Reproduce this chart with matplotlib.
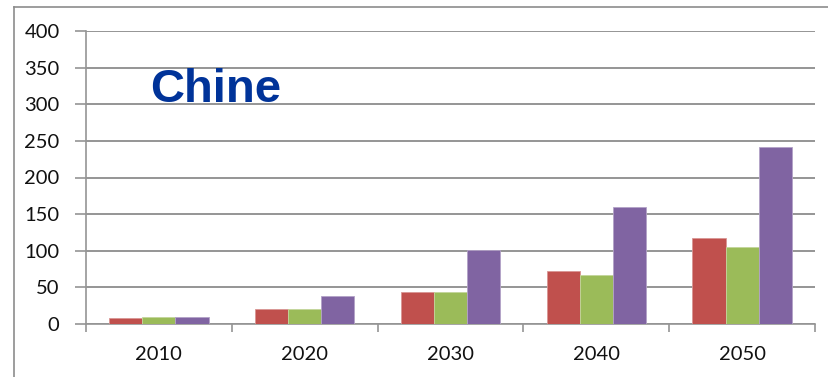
import matplotlib as mpl
mpl.use("Agg")
import matplotlib.pyplot as plt
from matplotlib.lines import Line2D
import numpy as np

years = ["2010", "2020", "2030", "2040", "2050"]
serie_rouge = [8, 20, 44, 72, 117]
serie_verte = [10, 20, 44, 67, 105]
serie_violette = [10, 38, 101, 160, 241]

couleurs = ["#C0504D", "#9BBB59", "#8064A2"]
bords = ["#D99694", "#C3D69B", "#B3A2C7"]
gris = "#959595"

W, H = 829, 377
fig = plt.figure(figsize=(W / 100, H / 100), dpi=100)
ax = fig.add_axes([86 / W, 1 - 324 / H, (815 - 86) / W, (324 - 31) / H])

x = np.arange(len(years))
bw = 0.227
for i, vals in enumerate([serie_rouge, serie_verte, serie_violette]):
    ax.bar(x + (i - 1) * bw, vals, bw, color=couleurs[i], edgecolor=bords[i],
           linewidth=0.6, zorder=3)

ax.set_xlim(-0.5, len(years) - 0.5)
ax.set_ylim(0, 400)
ax.set_yticks(range(0, 401, 50))
ax.yaxis.grid(True, color=gris, linewidth=1.4, zorder=0)

ax.set_xticks(x)
ax.set_xticklabels(years)
ax.set_xticks(np.arange(-0.5, len(years)), minor=True)
ax.tick_params(axis="x", which="major", length=0, pad=16)
ax.tick_params(axis="x", which="minor", length=6, width=1.2, color=gris)
ax.tick_params(axis="y", length=8, width=1.2, color=gris, pad=11)
for lbl in ax.get_xticklabels() + ax.get_yticklabels():
    lbl.set_fontfamily("Lato")
    lbl.set_fontsize(14.5)
    lbl.set_color("#111111")

for s in ["top", "right"]:
    ax.spines[s].set_visible(False)
for s in ["left", "bottom"]:
    ax.spines[s].set_color(gris)
    ax.spines[s].set_linewidth(1.2)

fig.text(150 / W, 1 - 102 / H, "Chine", fontsize=34, fontweight="bold",
         family="Liberation Sans", color="#003399", va="baseline", ha="left")

# cadre du graphique
fig.add_artist(Line2D([14 / W, 14 / W], [0, 1 - 7 / H], color="#8c8c8c", lw=1.2))
fig.add_artist(Line2D([14 / W, 1], [1 - 7 / H, 1 - 7 / H], color="#8c8c8c", lw=1.2))

fig.savefig("out.png", dpi=100)
